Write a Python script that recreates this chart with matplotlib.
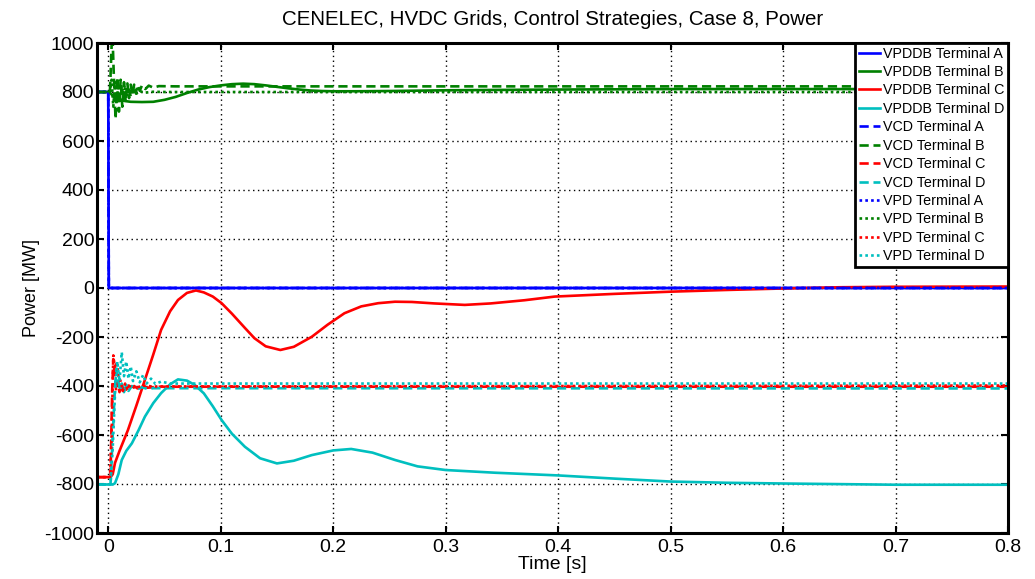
import matplotlib
matplotlib.use("Agg")
import matplotlib.pyplot as plt

plt.rcParams['font.family'] = ['Liberation Sans', 'DejaVu Sans']

title = "CENELEC, HVDC Grids, Control Strategies, Case 8, Power"
xlabel = "Time [s]"
ylabel = "Power [MW]"
xticks = [0, 0.1, 0.2, 0.3, 0.4, 0.5, 0.6, 0.7, 0.8]
xtick_labels = ["0", "0.1", "0.2", "0.3", "0.4", "0.5", "0.6", "0.7", "0.8"]
yticks = [-1000, -800, -600, -400, -200, 0, 200, 400, 600, 800, 1000]
ytick_labels = ["-1000", "-800", "-600", "-400", "-200", "0", "200", "400", "600", "800", "1000"]

# ---- VPDDB (solid) ----
vpddb_a_t = [-0.01, 0.0, 0.0005, 0.8]
vpddb_a_p = [800, 800, 0, 0]

vpddb_b_t = [-0.01, 0.001, 0.003, 0.006, 0.01, 0.015, 0.02, 0.03, 0.04, 0.05, 0.06, 0.07, 0.08,
             0.09, 0.1, 0.11, 0.12, 0.13, 0.14, 0.15, 0.16, 0.17, 0.18, 0.19, 0.2, 0.22, 0.25,
             0.3, 0.4, 0.5, 0.8]
vpddb_b_p = [800, 800, 790, 775, 768, 763, 760, 759, 760, 768, 780, 796, 810,
             820, 827, 832, 834, 832, 827, 821, 815, 810, 806, 804, 803, 803, 804,
             807, 810, 812, 812]

vpddb_c_t = [-0.01, 0.002, 0.004, 0.006, 0.01, 0.0175, 0.025, 0.0326, 0.04, 0.047, 0.055, 0.062,
             0.07, 0.078, 0.085, 0.093, 0.1008, 0.11, 0.1215, 0.13, 0.14, 0.153, 0.165, 0.181,
             0.195, 0.21, 0.225, 0.24, 0.255, 0.27, 0.29, 0.317, 0.34, 0.37, 0.397, 0.45, 0.5,
             0.55, 0.6, 0.65, 0.7, 0.8]
vpddb_c_p = [-772, -772, -760, -714, -665, -580, -480, -375, -272, -171, -95, -49,
             -20, -10, -18, -35, -62, -105, -163, -205, -238, -253, -240, -199,
             -150, -103, -75, -62, -56, -57, -63, -69, -63, -50, -35, -24, -15,
             -8, -2, 3, 5, 6]

vpddb_d_t = [-0.01, 0.004, 0.006, 0.009, 0.012, 0.016, 0.021, 0.027, 0.0326, 0.04, 0.047, 0.055,
             0.062, 0.07, 0.077, 0.085, 0.093, 0.1008, 0.11, 0.1215, 0.135, 0.15, 0.165, 0.181,
             0.2, 0.216, 0.235, 0.255, 0.275, 0.3, 0.344, 0.4, 0.45, 0.5, 0.55, 0.6, 0.7, 0.8]
vpddb_d_p = [-802, -802, -797, -760, -702, -665, -634, -580, -525, -470, -429, -393,
             -373, -378, -396, -430, -483, -539, -595, -648, -695, -716, -705, -682,
             -663, -657, -672, -702, -728, -743, -754, -765, -778, -790, -795, -798, -803, -803]

# ---- VCD (dashed) ----
vcd_a_t = [-0.01, 0.0, 0.0005, 0.8]
vcd_a_p = [800, 800, 0, 0]

vcd_b_t = [-0.01, 0.0015, 0.003, 0.004, 0.005, 0.0065, 0.008, 0.0095, 0.011, 0.0125, 0.014,
           0.0155, 0.017, 0.0185, 0.02, 0.0215, 0.023, 0.0245, 0.026, 0.028, 0.03, 0.033,
           0.036, 0.04, 0.045, 0.06, 0.1, 0.8]
vcd_b_p = [800, 800, 990, 1000, 860, 690, 860, 720, 850, 740, 840,
           760, 835, 775, 830, 785, 830, 795, 828, 805, 827, 812,
           826, 818, 824, 823, 823, 823]

vcd_c_t = [-0.01, 0.002, 0.0035, 0.0045, 0.0055, 0.007, 0.0085, 0.01, 0.0115, 0.013, 0.0145,
           0.016, 0.018, 0.02, 0.023, 0.026, 0.03, 0.035, 0.045, 0.8]
vcd_c_p = [-772, -772, -420, -290, -330, -420, -380, -425, -390, -420, -395,
           -415, -398, -412, -400, -410, -402, -407, -403, -403]

vcd_d_t = [-0.01, 0.002, 0.004, 0.006, 0.0075, 0.009, 0.0105, 0.012, 0.014, 0.016, 0.018,
           0.021, 0.025, 0.03, 0.035, 0.04, 0.8]
vcd_d_p = [-802, -802, -600, -400, -330, -380, -420, -390, -425, -395, -420,
           -400, -415, -405, -412, -409, -410]

# ---- VPD (dotted) ----
vpd_a_t = [-0.01, 0.0, 0.0005, 0.8]
vpd_a_p = [800, 800, 0, 0]

vpd_b_t = [-0.01, 0.0015, 0.003, 0.0045, 0.006, 0.0075, 0.009, 0.0105, 0.012, 0.0135, 0.015,
           0.0165, 0.018, 0.02, 0.022, 0.025, 0.028, 0.032, 0.04, 0.05, 0.8]
vpd_b_p = [800, 800, 850, 740, 840, 760, 830, 770, 825, 775, 818,
           782, 812, 788, 808, 793, 804, 797, 801, 800, 800]

vpd_c_t = [-0.01, 0.0015, 0.003, 0.0045, 0.006, 0.0075, 0.009, 0.011, 0.013, 0.015, 0.017,
           0.02, 0.024, 0.03, 0.04, 0.8]
vpd_c_p = [-772, -772, -600, -275, -330, -300, -360, -380, -420, -390, -415,
           -395, -410, -398, -402, -398]

vpd_d_t = [-0.01, 0.002, 0.004, 0.006, 0.008, 0.01, 0.012, 0.014, 0.016, 0.018, 0.02, 0.022,
           0.025, 0.028, 0.031, 0.034, 0.038, 0.042, 0.047, 0.055, 0.8]
vpd_d_p = [-802, -802, -650, -430, -300, -380, -262, -360, -300, -370, -320, -380,
           -340, -385, -355, -390, -370, -392, -382, -390, -390]

series = [
    ("VPDDB Terminal A", vpddb_a_t, vpddb_a_p),
    ("VPDDB Terminal B", vpddb_b_t, vpddb_b_p),
    ("VPDDB Terminal C", vpddb_c_t, vpddb_c_p),
    ("VPDDB Terminal D", vpddb_d_t, vpddb_d_p),
    ("VCD Terminal A", vcd_a_t, vcd_a_p),
    ("VCD Terminal B", vcd_b_t, vcd_b_p),
    ("VCD Terminal C", vcd_c_t, vcd_c_p),
    ("VCD Terminal D", vcd_d_t, vcd_d_p),
    ("VPD Terminal A", vpd_a_t, vpd_a_p),
    ("VPD Terminal B", vpd_b_t, vpd_b_p),
    ("VPD Terminal C", vpd_c_t, vpd_c_p),
    ("VPD Terminal D", vpd_d_t, vpd_d_p),
]
colors = ["#0000ff", "#008000", "#ff0000", "#00bfbf"]
styles = ["-", (0, (3.5, 1.8)), (0, (1, 1.2))]

fig = plt.figure(figsize=(10.35, 5.79), dpi=100)
ax = fig.add_axes([97/1035, 1-533/579, (1008-97)/1035, (533-43)/579])

for i, (lab, t, p) in enumerate(series):
    ax.plot(t, p, color=colors[i % 4], linestyle=styles[i // 4], linewidth=1.9, label=lab)

ax.set_xlim(-0.01, 0.8)
ax.set_ylim(-1000, 1000)
ax.set_xticks(xticks)
ax.set_xticklabels(xtick_labels)
ax.set_yticks(yticks)
ax.set_yticklabels(ytick_labels)
ax.grid(True, color='black', linestyle=(0, (1, 2.5)), linewidth=1.0)
ax.tick_params(direction='in', length=5, width=1.5, labelsize=14, top=True, right=True)
ax.tick_params(axis='x', pad=4)
ax.tick_params(axis='y', pad=2)
for s in ax.spines.values():
    s.set_linewidth(2.2)

ax.set_title(title, fontsize=14.8, pad=13)
ax.set_xlabel(xlabel, fontsize=14, labelpad=0.5)
ax.set_ylabel(ylabel, fontsize=13, labelpad=3)

leg = ax.legend(loc='upper right', bbox_to_anchor=(1.0, 1.0),
                borderaxespad=0, fontsize=10.3, handlelength=1.5, handletextpad=0.2,
                labelspacing=0.31, borderpad=0.25, fancybox=False, framealpha=1, edgecolor='black')
leg.get_frame().set_linewidth(2.0)

fig.savefig("out.png", dpi=100)
